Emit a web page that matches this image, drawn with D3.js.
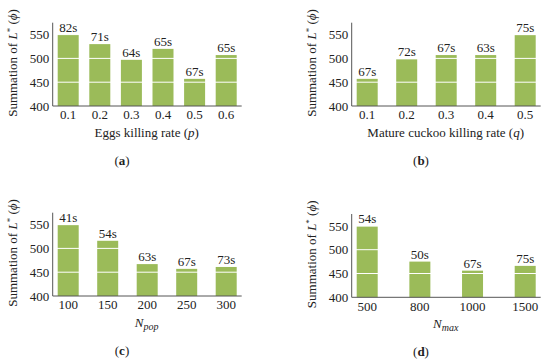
<!DOCTYPE html>
<html>
<head>
<meta charset="utf-8">
<script src="https://cdn.jsdelivr.net/npm/d3@7"></script>
<style>
  body { margin: 0; background: #fff; }
  svg { display: block; }
  text { font-family: "Liberation Serif", "Times New Roman", serif; fill: #222; }
</style>
</head>
<body>
<svg id="chart" width="550" height="362"></svg>
<script>
// data
const catsA = ['0.1', '0.2', '0.3', '0.4', '0.5', '0.6'];
const valsA = [550, 530, 497, 520, 457, 507];
const timesA = ['82s', '71s', '64s', '65s', '67s', '65s'];

const catsB = ['0.1', '0.2', '0.3', '0.4', '0.5'];
const valsB = [457, 498, 507, 507, 549];
const timesB = ['67s', '72s', '67s', '63s', '75s'];

const catsC = ['100', '150', '200', '250', '300'];
const valsC = [549, 516, 467, 457, 461];
const timesC = ['41s', '54s', '63s', '67s', '73s'];

const catsD = ['500', '800', '1000', '1500'];
const valsD = [549, 475, 456, 466];
const timesD = ['54s', '50s', '67s', '75s'];

const yTicks = [400, 450, 500, 550];
const gridVals = [450, 500, 550];

const svg = d3.select('#chart');

const plotW = 189, plotH = 83.3, barW = 21;
const green = '#9bbb59';
const fs = 13;

// panel placement
const panels = [
  { id: 'a', cats: catsA, vals: valsA, times: timesA, x0: 52.7, y0: 106 },
  { id: 'b', cats: catsB, vals: valsB, times: timesB, x0: 351.7, y0: 106 },
  { id: 'c', cats: catsC, vals: valsC, times: timesC, x0: 52.7, y0: 296 },
  { id: 'd', cats: catsD, vals: valsD, times: timesD, x0: 351.7, y0: 297.3 }
];

function xTitle(t, id) {
  if (id == 'a') {
    t.append('tspan').text('Eggs killing rate (');
    t.append('tspan').attr('font-style', 'italic').text('p');
    t.append('tspan').text(')');
  } else if (id == 'b') {
    t.append('tspan').text('Mature cuckoo killing rate (');
    t.append('tspan').attr('font-style', 'italic').text('q');
    t.append('tspan').text(')');
  } else {
    t.append('tspan').attr('font-style', 'italic').text('N');
    t.append('tspan').attr('font-style', 'italic').attr('font-size', 10).attr('dy', 3)
      .text(id == 'c' ? 'pop' : 'max');
  }
}

panels.forEach(p => {
  const g = svg.append('g');
  const inner = plotW - 10;
  const pad = (inner - barW * p.cats.length) / (inner - barW);

  const x = d3.scaleBand()
    .domain(p.cats)
    .range([p.x0 + 5, p.x0 + plotW - 5])
    .paddingInner(pad)
    .paddingOuter(0);

  const y = d3.scaleLinear()
    .domain([400, 575])
    .range([p.y0, p.y0 - plotH]);

  // bars
  g.selectAll('rect.bar')
    .data(p.vals)
    .join('rect')
    .attr('class', 'bar')
    .attr('x', (d, i) => x(p.cats[i]))
    .attr('width', x.bandwidth())
    .attr('y', d => y(d))
    .attr('height', d => y(400) - y(d))
    .attr('fill', green);

  // white gridlines on top of bars
  g.selectAll('line.grid')
    .data(gridVals)
    .join('line')
    .attr('class', 'grid')
    .attr('x1', p.x0 + 1).attr('x2', p.x0 + plotW)
    .attr('y1', d => y(d)).attr('y2', d => y(d))
    .attr('stroke', '#fff')
    .attr('stroke-width', 1);

  // time labels
  g.selectAll('text.val')
    .data(p.times)
    .join('text')
    .attr('class', 'val')
    .attr('x', (d, i) => x(p.cats[i]) + x.bandwidth() / 2)
    .attr('y', (d, i) => y(p.vals[i]) - 3)
    .attr('text-anchor', 'middle')
    .attr('font-size', fs)
    .text(d => d);

  // axes
  const yAxis = g.append('g')
    .attr('transform', `translate(${p.x0},0)`)
    .call(d3.axisLeft(y).tickValues(yTicks).tickSize(0).tickPadding(3.5));
  yAxis.select('.domain').attr('stroke', '#555').attr('d', `M0,${y(575)}V${y(400)}`);
  yAxis.selectAll('text').attr('font-size', fs).attr('font-family', '"Liberation Serif", serif').attr('fill', '#222');

  const xAxis = g.append('g')
    .attr('transform', `translate(0,${p.y0})`)
    .call(d3.axisBottom(x).tickSize(0).tickPadding(4));
  xAxis.select('.domain').attr('stroke', '#555').attr('d', `M${p.x0},0H${p.x0 + plotW}`);
  xAxis.selectAll('text').attr('font-size', fs).attr('font-family', '"Liberation Serif", serif').attr('fill', '#222');

  // x title
  const xt = g.append('text')
    .attr('x', p.x0 + plotW / 2 - 0.5)
    .attr('y', p.y0 + 31)
    .attr('text-anchor', 'middle')
    .attr('font-size', fs);
  xTitle(xt, p.id);

  // y title
  const yt = g.append('text')
    .attr('transform', `translate(${p.x0 - 35.5},${p.y0 - 43}) rotate(-90)`)
    .attr('text-anchor', 'middle')
    .attr('font-size', fs);
  yt.append('tspan').text('Summation of ');
  yt.append('tspan').attr('font-style', 'italic').text('L');
  yt.append('tspan').attr('font-size', 9).attr('dy', -4.5).text('*');
  yt.append('tspan').attr('dy', 4.5).text(' (');
  yt.append('tspan').attr('font-style', 'italic').text('\u03D5');
  yt.append('tspan').text(')');

  // caption
  const cap = g.append('text')
    .attr('x', p.x0 + 69.3)
    .attr('y', p.y0 + 59)
    .attr('text-anchor', 'middle')
    .attr('font-size', fs);
  cap.append('tspan').text('(');
  cap.append('tspan').attr('font-weight', 'bold').text(p.id);
  cap.append('tspan').text(')');
});
</script>
</body>
</html>
